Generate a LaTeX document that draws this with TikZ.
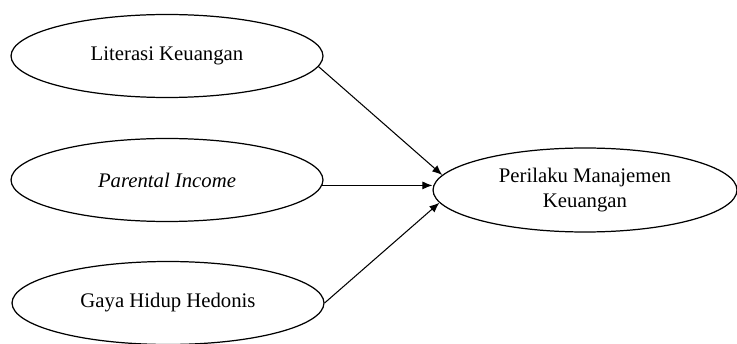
\documentclass[tikz,border=0pt]{standalone}
\usepackage{fontspec}
\setmainfont{Liberation Serif}
\usetikzlibrary{shapes.geometric}
\usetikzlibrary{arrows.meta}
\usetikzlibrary{positioning}

\tikzset{
    varnode/.style={draw, ellipse, line width=0.7pt, minimum width=6.24cm, minimum height=1.66cm, align=center, font=\fontsize{11.8}{14.2}\selectfont},
    pathline/.style={line width=0.6pt, -{Latex[length=5.7pt,width=4.6pt]}}
}

\begin{document}
\begin{tikzpicture}[x=0.02cm, y=-0.02cm]
        % Frame of the picture
        \useasboundingbox (0,0) rectangle (737,344);

        % Independent variables
        \node[varnode] (literasi) at (167,56) {Literasi Keuangan};
        \node[varnode] (income) at (167,180) {\textit{Parental Income}};
        \node[varnode] (hedonis) at (168,303) {Gaya Hidup Hedonis};

        % Dependent variable
        \node[varnode, minimum width=6.08cm, minimum height=1.68cm] (perilaku) at (585,190) {Perilaku Manajemen\\Keuangan};

        % Paths
        \draw[pathline] (literasi.-4) -- (perilaku.174.2);                  % top path
        \draw[pathline] (income.-2.7) -- (income.-2.7 -| perilaku.west);   % middle path
        \draw[pathline] (hedonis.east) -- (perilaku.185.3);                 % bottom path
\end{tikzpicture}
\end{document}
